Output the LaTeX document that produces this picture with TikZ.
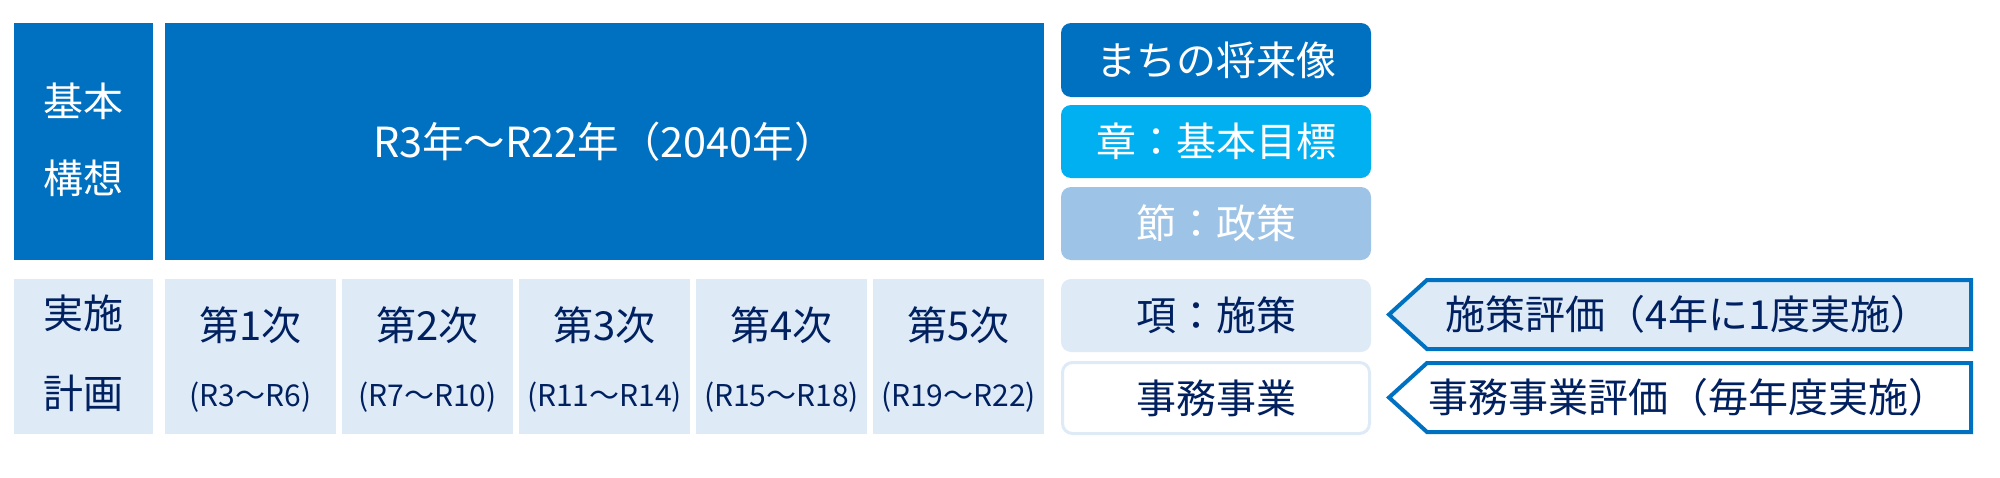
\documentclass[tikz,border=0pt]{standalone}
\usepackage{fontspec}
\setmainfont{Noto Sans CJK JP}
\definecolor{cDark}{HTML}{0070C0}
\definecolor{cCyan}{HTML}{00B0F0}
\definecolor{cLight}{HTML}{9DC3E6}
\definecolor{cPale}{HTML}{DEEBF7}
\definecolor{cNavy}{HTML}{002060}
\tikzset{
  sq/.style={rectangle, draw=none, inner sep=0pt},
  rbox/.style={rectangle, rounded corners=10pt, draw=none, inner sep=0pt,
    minimum width=310pt, minimum height=73pt},
  big/.style={font=\fontsize{40}{48}\selectfont},
  small/.style={font=\fontsize{30}{34}\selectfont, text=cNavy},
  evalshape/.style={draw=cDark, line width=4pt, line join=miter},
  txt/.style={inner sep=0pt, align=center}
}
\begin{document}
\begin{tikzpicture}[x=1pt,y=-1pt]
\useasboundingbox (0,0) rectangle (2000,477);
% top row
\node[sq, fill=cDark, minimum width=139pt, minimum height=237pt] (kihon) at (83.5,141.5) {};
\node[txt, text=white, font=\fontsize{40}{77}\selectfont] (kihonT) at (83.5,140) {基本\\構想};
\node[sq, fill=cDark, minimum width=879pt, minimum height=237pt] (main) at (604.5,141.5) {};
\node[txt, text=white, font=\fontsize{41.5}{48}\selectfont] (mainT) at (main.center) {R3年～R22年（2040年）};
% bottom row
\node[sq, fill=cPale, minimum width=139pt, minimum height=155pt] (jisshi) at (83.5,356.5) {};
\node[txt, text=cNavy, font=\fontsize{40}{80}\selectfont] (jisshiT) at (83.5,353) {実施\\計画};
\foreach \i/\lab/\per in {0/1/(R3～R6),1/2/(R7～R10),2/3/(R11～R14),3/4/(R15～R18),4/5/(R19～R22)}{
  \node[sq, fill=cPale, minimum width=171pt, minimum height=155pt] (p\lab) at ({250.5+177*\i},356.5) {};
  \node[txt, big, text=cNavy] (p\lab T) at ({250.5+177*\i},325) {第\lab 次};
  \node[txt, small] (p\lab R) at ({250.5+177*\i},397) {\per};
}
% right column
\node[rbox, fill=cDark, minimum height=74pt] (vision) at (1216,60) {};
\node[txt, big, text=white] (visionT) at (vision.center) {まちの将来像};
\node[rbox, fill=cCyan] (goal) at (1216,141.5) {};
\node[txt, big, text=white] (goalT) at (goal.center) {章：基本目標};
\node[rbox, fill=cLight] (policy) at (1216,223.5) {};
\node[txt, big, text=white] (policyT) at (policy.center) {節：政策};
\node[rbox, fill=cPale] (measure) at (1216,315.5) {};
\node[txt, big, text=cNavy] (measureT) at (measure.center) {項：施策};
\node[rbox, fill=white, draw=cPale, line width=3pt, minimum width=307pt, minimum height=71pt] (project) at (1216,398) {};
\node[txt, big, text=cNavy] (projectT) at (project.center) {事務事業};
% evaluation pointers
\draw[evalshape, fill=cPale] (1427,280) -- (1971,280) -- (1971,349) -- (1427,349) -- (1389,314.5) -- cycle;
\node[txt, big, text=cNavy] (eval1) at (1688,314.5) {施策評価（4年に1度実施）};
\draw[evalshape, fill=white] (1427,363) -- (1971,363) -- (1971,432) -- (1427,432) -- (1389,397.5) -- cycle;
\node[txt, big, text=cNavy] (eval2) at (1688,397.5) {事務事業評価（毎年度実施）};
\end{tikzpicture}
\end{document}
